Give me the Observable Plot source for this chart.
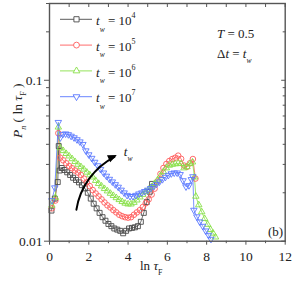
<!DOCTYPE html>
<html><head><meta charset="utf-8">
<script src="https://cdn.jsdelivr.net/npm/d3@7"></script>
<script src="https://cdn.jsdelivr.net/npm/@observablehq/plot@0.6"></script>
<style>
html,body{margin:0;padding:0;background:#fff;}
#chart{width:300px;height:282px;}
</style></head><body><div id="chart"></div>
<script>
// ---- data: [ln tau_F, P_n(ln tau_F)] ----
const tw1e4 = [[0.10,0.0155],[0.27,0.0184],[0.42,0.0233],[0.47,0.0390],[0.52,0.0275],[0.62,0.0285],[0.76,0.0277],[0.90,0.0268],[1.05,0.0258],[1.20,0.0248],[1.35,0.0240],[1.50,0.0232],[1.65,0.0223],[1.80,0.0213],[1.95,0.0200],[2.10,0.0184],[2.25,0.0171],[2.40,0.0160],[2.55,0.0150],[2.70,0.0141],[2.85,0.0134],[3.00,0.0128],[3.15,0.0124],[3.30,0.0120],[3.45,0.0118],[3.60,0.0116],[3.75,0.0112],[3.90,0.0116],[4.05,0.0120],[4.20,0.0121],[4.35,0.0122],[4.50,0.0124],[4.65,0.0132],[4.80,0.0150],[4.95,0.0175],[5.10,0.0203],[5.22,0.0227]];
const tw1e5 = [[0.12,0.0160],[0.30,0.0179],[0.45,0.0469],[0.55,0.0330],[0.70,0.0318],[0.85,0.0305],[1.00,0.0293],[1.15,0.0284],[1.30,0.0275],[1.45,0.0267],[1.60,0.0258],[1.75,0.0245],[1.90,0.0232],[2.05,0.0220],[2.20,0.0208],[2.35,0.0198],[2.50,0.0190],[2.65,0.0182],[2.80,0.0174],[2.95,0.0167],[3.10,0.0162],[3.25,0.0156],[3.40,0.0151],[3.55,0.0146],[3.70,0.0143],[3.85,0.0141],[4.00,0.0140],[4.15,0.0141],[4.30,0.0146],[4.45,0.0151],[4.60,0.0156],[4.75,0.0163],[4.90,0.0172],[5.05,0.0182],[5.20,0.0195],[5.35,0.0212],[5.50,0.0235],[5.65,0.0262],[5.80,0.0285],[5.95,0.0302],[6.10,0.0315],[6.25,0.0324],[6.40,0.0330],[6.55,0.0340],[6.70,0.0325],[6.85,0.0295],[7.00,0.0290],[7.15,0.0305],[7.30,0.0324],[7.43,0.0245]];
const tw1e6 = [[0.12,0.0167],[0.30,0.0187],[0.45,0.0511],[0.55,0.0380],[0.70,0.0365],[0.85,0.0350],[1.00,0.0338],[1.15,0.0325],[1.30,0.0312],[1.45,0.0300],[1.60,0.0290],[1.75,0.0280],[1.90,0.0268],[2.05,0.0258],[2.20,0.0250],[2.35,0.0238],[2.50,0.0228],[2.65,0.0220],[2.80,0.0212],[2.95,0.0205],[3.10,0.0198],[3.25,0.0192],[3.40,0.0186],[3.55,0.0181],[3.70,0.0176],[3.85,0.0172],[4.00,0.0170],[4.15,0.0170],[4.30,0.0174],[4.45,0.0180],[4.60,0.0188],[4.75,0.0195],[4.90,0.0203],[5.05,0.0210],[5.20,0.0218],[5.35,0.0228],[5.50,0.0240],[5.65,0.0255],[5.80,0.0270],[5.95,0.0285],[6.10,0.0296],[6.25,0.0300],[6.40,0.0302],[6.55,0.0305],[6.70,0.0303],[6.85,0.0285],[7.00,0.0290],[7.15,0.0303],[7.28,0.0310],[7.38,0.0250],[7.45,0.0190],[7.60,0.0168],[7.75,0.0152],[7.90,0.0138],[8.05,0.0127],[8.20,0.0118],[8.33,0.0112],[8.45,0.0106]];
const tw1e7 = [[0.12,0.0179],[0.27,0.0215],[0.45,0.0548],[0.55,0.0440],[0.68,0.0462],[0.82,0.0465],[0.96,0.0460],[1.10,0.0450],[1.25,0.0440],[1.40,0.0428],[1.55,0.0415],[1.70,0.0400],[1.85,0.0365],[2.00,0.0345],[2.15,0.0328],[2.30,0.0310],[2.45,0.0295],[2.60,0.0280],[2.75,0.0266],[2.90,0.0254],[3.05,0.0243],[3.20,0.0234],[3.35,0.0225],[3.50,0.0217],[3.65,0.0208],[3.80,0.0200],[3.95,0.0193],[4.10,0.0190],[4.25,0.0190],[4.40,0.0193],[4.55,0.0197],[4.70,0.0200],[4.85,0.0204],[5.00,0.0208],[5.15,0.0213],[5.30,0.0219],[5.45,0.0226],[5.60,0.0234],[5.75,0.0242],[5.90,0.0250],[6.05,0.0257],[6.20,0.0263],[6.35,0.0266],[6.50,0.0266],[6.65,0.0260],[6.80,0.0238],[6.95,0.0218],[7.10,0.0222],[7.22,0.0242],[7.30,0.0252],[7.35,0.0156],[7.50,0.0142],[7.65,0.0132],[7.80,0.0124],[7.95,0.0116],[8.10,0.0109],[8.22,0.0103]];

const seriesExponents = ["4", "5", "6", "7"];
const xMajorTicks = [0, 2, 4, 6, 8, 10, 12];
const xMinorTicks = [1, 3, 5, 7, 9, 11];
const xAllTicks = [0,1,2,3,4,5,6,7,8,9,10,11,12];
const yMajorTicks = [0.01, 0.1];
const yMinorTicks = [0.02, 0.03, 0.04, 0.05, 0.06, 0.07, 0.08, 0.09, 0.2, 0.3];
const arrowTw = [{x1: 1.37, y1: 0.0157, x2: 3.45, y2: 0.0341}];

// ---- styles ----
const allSeries = [tw1e4, tw1e5, tw1e6, tw1e7];
const colors = ["#4a4a4a", "#ff5c5c", "#88e048", "#5a78ff"];
const symbols = ["square", "circle", "triangle", "triangle"];
const rotations = [0, 0, 0, 180];
const radii = [2.8, 2.8, 2.4, 2.4];
const axisColor = "#555";
const FONT = "Liberation Serif, Tinos, Times New Roman, DejaVu Serif, serif";
const BEND = 28;

const marks = [];
allSeries.forEach((s, i) => {
  marks.push(Plot.line(s, {x: d => d[0], y: d => d[1], stroke: colors[i], strokeWidth: 0.8}));
});
allSeries.forEach((s, i) => {
  marks.push(Plot.dot(s, {x: d => d[0], y: d => d[1], symbol: symbols[i], rotate: rotations[i], r: radii[i],
    stroke: colors[i], fill: "none", strokeWidth: 0.9}));
});
marks.push(
  Plot.arrow(arrowTw, {x1: "x1", y1: "y1", x2: "x2", y2: "y2", bend: BEND, stroke: "#000", strokeWidth: 2, headLength: 0, insetEnd: 3}),
  Plot.axisX(xMajorTicks, {anchor: "bottom", tickSize: 4, tickPadding: 6, stroke: axisColor, label: null, fontSize: 13.5, tickFormat: d => String(d)}),
  Plot.axisX(xMinorTicks, {anchor: "bottom", tickSize: 2.5, text: null, stroke: axisColor, label: null}),
  Plot.axisX(xAllTicks, {anchor: "top", tickSize: -3, text: null, stroke: axisColor, label: null}),
  Plot.axisY(yMajorTicks, {anchor: "left", tickSize: 5, tickPadding: 2, stroke: axisColor, label: null, fontSize: 13.5, tickFormat: d => String(d)}),
  Plot.axisY(yMinorTicks, {anchor: "left", tickSize: 3, text: null, stroke: axisColor, label: null}),
  Plot.axisY(yMajorTicks, {anchor: "right", tickSize: -4.5, text: null, stroke: axisColor, label: null}),
  Plot.axisY(yMinorTicks, {anchor: "right", tickSize: -3, text: null, stroke: axisColor, label: null}),
  Plot.frame({stroke: axisColor, strokeWidth: 1.4})
);

const plot = Plot.plot({
  width: 300, height: 282,
  marginLeft: 49, marginRight: 15.3, marginTop: 3, marginBottom: 41.3,
  style: {fontFamily: FONT, fontSize: "13px", background: "#fff", color: "#222", overflow: "visible"},
  x: {domain: [0, 12]},
  y: {type: "log", domain: [0.01, 0.3]},
  marks
});
document.getElementById("chart").appendChild(plot);

// ---- rich text helper ----
const svg = d3.select(plot);
function rich(x, y, parts, opts = {}) {
  const t = svg.append("text").attr("x", x).attr("y", y)
    .attr("text-anchor", opts.anchor || "start")
    .attr("font-family", FONT).attr("font-size", opts.size || 13).attr("fill", "#222");
  if (opts.transform) t.attr("transform", opts.transform);
  let shift = 0;
  parts.forEach(p => {
    const ts = t.append("tspan").text(p.t);
    const target = p.sub ? (p.subDy || 5) : p.sup ? -(p.supDy || 6) : 0;
    ts.attr("dy", target - shift);
    shift = target;
    if (p.sub || p.sup) ts.attr("font-size", p.size || 8);
    if (p.i) ts.attr("font-style", "italic");
  });
  return t;
}

// legend
const fx = plot.scale("x"), fy = plot.scale("y");
seriesExponents.forEach((e, i) => {
  const yy = 19.3 + i * 25.8;
  svg.append("line").attr("x1", 60).attr("x2", 92).attr("y1", yy).attr("y2", yy)
    .attr("stroke", colors[i]).attr("stroke-width", 0.9);
  const sym = d3.symbol().type(symbols[i] === "square" ? d3.symbolSquare : symbols[i] === "circle" ? d3.symbolCircle : d3.symbolTriangle)
    .size(Math.PI * radii[i] * radii[i] * 1.1);
  svg.append("path").attr("d", sym()).attr("transform", `translate(76.5,${yy}) rotate(${rotations[i]})`)
    .attr("fill", "#fff").attr("stroke", colors[i]).attr("stroke-width", 0.9);
  rich(96, yy + 5.7, [
    {t: "t", i: true}, {t: "w", sub: true, i: true, subDy: 6.5, size: 7.5},
    {t: " = 10"}, {t: e, sup: true, supDy: 7, size: 8}
  ]);
});

// annotations
rich(217, 38, [{t: "T", i: true}, {t: " = 0.5"}], {size: 13});
rich(217, 58, [{t: "\u0394"}, {t: "t", i: true}, {t: " = "}, {t: "t", i: true}, {t: "w", sub: true, i: true, subDy: 5, size: 7.5}], {size: 13});
rich(268, 236, [{t: "(b)"}], {size: 13});

// filled arrowhead at the arrow's end, oriented along the arc's end tangent
const a0 = arrowTw[0];
const sx1 = fx.apply(a0.x1), sy1 = fy.apply(a0.y1), sx2 = fx.apply(a0.x2), sy2 = fy.apply(a0.y2);
const endAngle = Math.atan2(sy2 - sy1, sx2 - sx1) + BEND * Math.PI / 180;
const hl = 9, hw = 3.8;
const bx = sx2 - hl * Math.cos(endAngle), by = sy2 - hl * Math.sin(endAngle);
const nx = -Math.sin(endAngle), ny = Math.cos(endAngle);
svg.append("path")
  .attr("d", `M${sx2},${sy2}L${bx + hw * nx},${by + hw * ny}L${bx - hw * nx},${by - hw * ny}Z`)
  .attr("fill", "#000");

// arrow label
rich(sx2 + 7, sy2 + 1, [{t: "t", i: true}, {t: "w", sub: true, i: true, subDy: 5, size: 7.5}], {size: 13});

// axis titles
rich(140, 270, [{t: "ln "}, {t: "\u03C4", i: true}, {t: "F", sub: true, subDy: 5, size: 8}], {size: 13});
rich(0, 0, [{t: "P", i: true}, {t: "n", sub: true, i: true, subDy: 4, size: 8}, {t: " ( ln "}, {t: "\u03C4", i: true}, {t: "F", sub: true, subDy: 4, size: 8}, {t: " )"}],
  {size: 13.5, transform: "translate(22,138) rotate(-90)"});
</script></body></html>
